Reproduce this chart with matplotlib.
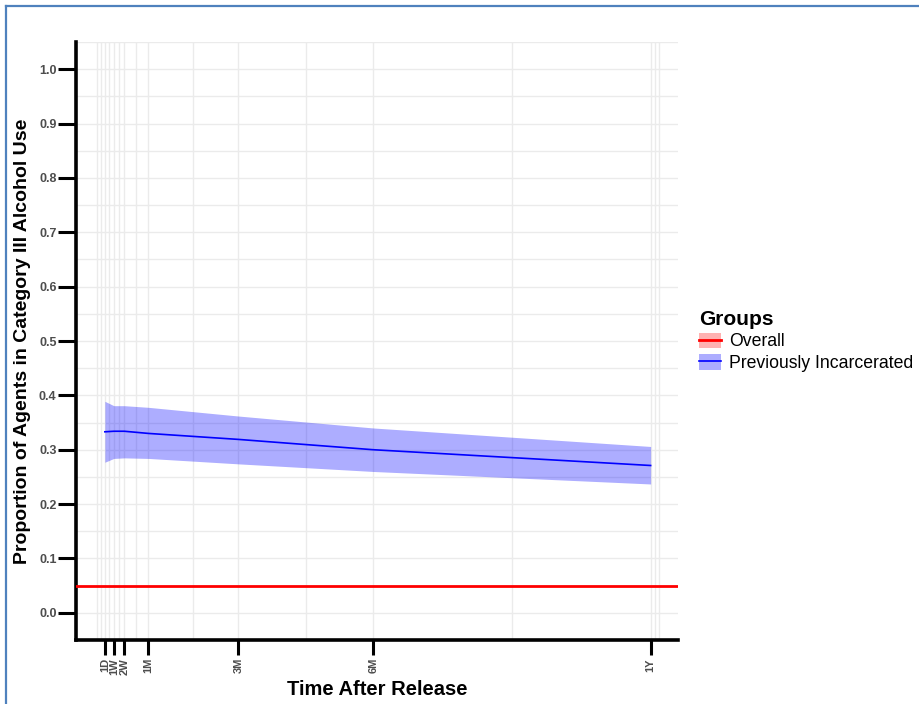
import numpy as np
import matplotlib
matplotlib.use("Agg")
import matplotlib.pyplot as plt
from matplotlib.patches import Patch
from matplotlib.lines import Line2D

plt.rcParams['font.family'] = ['Liberation Sans', 'DejaVu Sans']

# data
time_days = [1, 7, 14, 30, 90, 180, 365]
time_labels = ["1D", "1W", "2W", "1M", "3M", "6M", "1Y"]
incarcerated_mean = [0.333, 0.334, 0.334, 0.330, 0.319, 0.300, 0.271]
incarcerated_upper = [0.389, 0.381, 0.381, 0.378, 0.362, 0.340, 0.306]
incarcerated_lower = [0.277, 0.284, 0.285, 0.284, 0.274, 0.260, 0.237]
overall_value = 0.05
group_names = ["Overall", "Previously Incarcerated"]

# extra light grid lines (ggplot minor breaks)
minor_grid_days = [-4.4, -1.7, 4, 10.5, 22, 60, 135, 272.5, 367.7, 370.5]

fig = plt.figure(figsize=(9.19, 7.04), dpi=100)
ax = fig.add_axes([76 / 919, 1 - 640 / 704, 602 / 919, 598 / 704])

grid_col = "#EBEBEB"
for d in list(time_days) + minor_grid_days:
    ax.axvline(d, color=grid_col, lw=1.0, zorder=0)
for v in np.arange(-0.05, 1.051, 0.05):
    ax.axhline(v, color=grid_col, lw=1.0, zorder=0)

blue = "#0000FF"
red = "#FF0000"
ax.fill_between(time_days, incarcerated_lower, incarcerated_upper,
                color=blue, alpha=0.32, lw=0, zorder=2)
ax.plot(time_days, incarcerated_mean, color=blue, lw=1.2, zorder=3)
ax.axhline(overall_value, color=red, lw=2, zorder=3)

# x scale runs from day 0 to 1 year, with 5% padding
span = 365
ax.set_xlim(-0.05 * span, span * 1.05)
ax.set_ylim(-0.05, 1.05)

ax.set_xticks(time_days)
ax.set_xticklabels(time_labels, rotation=90, fontsize=8, fontweight="bold",
                   color="#4D4D4D")
ax.set_yticks(np.round(np.arange(0, 1.01, 0.1), 1))
ax.set_yticklabels([f"{v:.1f}" for v in np.arange(0, 1.01, 0.1)],
                   fontsize=9, fontweight="bold", color="#4D4D4D")
ax.tick_params(axis="y", length=13, width=2.2, color="black", pad=1)
ax.tick_params(axis="x", length=11, width=2.2, color="black", pad=2)

for s in ["top", "right"]:
    ax.spines[s].set_visible(False)
for s in ["left", "bottom"]:
    ax.spines[s].set_linewidth(2.6)
    ax.spines[s].set_color("black")

ax.set_xlabel("Time After Release", fontsize=14.5, fontweight="bold", labelpad=4)
ax.set_ylabel("Proportion of Agents in Category III Alcohol Use",
              fontsize=14, fontweight="bold", labelpad=6)

handles = [
    (Patch(facecolor=red, alpha=0.3, lw=0), Line2D([], [], color=red, lw=2)),
    (Patch(facecolor=blue, alpha=0.32, lw=0), Line2D([], [], color=blue, lw=1.2)),
]
leg = fig.legend(handles, group_names, title="Groups", loc="center left",
                 bbox_to_anchor=(699 / 919, 1 - 341 / 704), frameon=False,
                 fontsize=12.7, title_fontproperties={"weight": "bold", "size": 15},
                 handlelength=1.25, handleheight=1.0, handletextpad=0.45,
                 labelspacing=0.2, borderpad=0, borderaxespad=0)
leg._legend_box.align = "left"

# blue frame of the surrounding document
fig.add_artist(Line2D([6 / 919, 6 / 919], [0, 1 - 6 / 704], color="#4F81BD", lw=1.6,
                      transform=fig.transFigure))
fig.add_artist(Line2D([6 / 919, 1], [1 - 6 / 704, 1 - 6 / 704], color="#4F81BD", lw=1.6,
                      transform=fig.transFigure))

fig.savefig("out.png", dpi=100)
